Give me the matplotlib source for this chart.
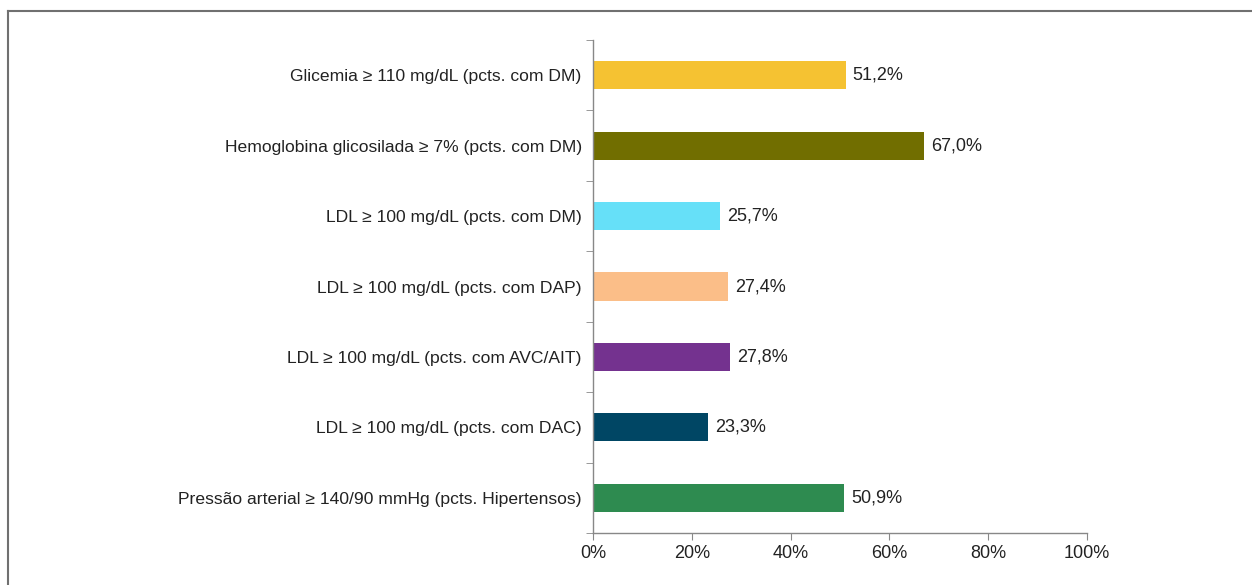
import matplotlib.pyplot as plt
from matplotlib.lines import Line2D
import numpy as np

# Indicators, top to bottom
categories = [
    'Glicemia ≥ 110 mg/dL (pcts. com DM)',
    'Hemoglobina glicosilada ≥ 7% (pcts. com DM)',
    'LDL ≥ 100 mg/dL (pcts. com DM)',
    'LDL ≥ 100 mg/dL (pcts. com DAP)',
    'LDL ≥ 100 mg/dL (pcts. com AVC/AIT)',
    'LDL ≥ 100 mg/dL (pcts. com DAC)',
    'Pressão arterial ≥ 140/90 mmHg (pcts. Hipertensos)',
]
values = [51.2, 67.0, 25.7, 27.4, 27.8, 23.3, 50.9]
colors = ['#F5C232', '#716E00', '#66E0F8', '#FBBE88', '#74328F', '#004664', '#2E8B50']
x_ticks = [0, 20, 40, 60, 80, 100]

plt.rcParams['font.family'] = ['Liberation Sans', 'DejaVu Sans']


def generate_graph():
    fig = plt.figure(figsize=(12.52, 5.85), dpi=100)
    ax = fig.add_axes([0.4736, 0.0889, 0.3946, 0.8427])

    y = np.arange(len(categories))
    ax.barh(y, values, height=0.4, color=colors)
    for yi, v in zip(y, values):
        ax.text(v + 1.4, yi, f'{v:.1f}%'.replace('.', ','), va='center', ha='left',
                fontsize=13, color='#222222')

    ax.set_xlim(0, 100)
    ax.set_ylim(len(categories) - 0.5, -0.5)
    ax.set_xticks(x_ticks)
    ax.set_xticklabels([f'{t}%' for t in x_ticks], fontsize=13, color='#222222')

    # category labels sit between tick marks placed on the boundaries
    ax.set_yticks(y)
    ax.set_yticklabels(categories, fontsize=12.6, color='#222222')
    ax.tick_params(axis='y', which='major', length=0, pad=8)
    ax.set_yticks(np.arange(-0.5, len(categories), 1), minor=True)
    ax.tick_params(axis='y', which='minor', length=5, color='#888888')
    ax.tick_params(axis='x', length=5, color='#888888', pad=4)

    for side in ('top', 'right'):
        ax.spines[side].set_visible(False)
    for side in ('left', 'bottom'):
        ax.spines[side].set_color('#888888')
        ax.spines[side].set_linewidth(1)

    # frame lines on top and left of the figure
    fig.add_artist(Line2D([8 / 1252, 1], [1 - 11 / 585, 1 - 11 / 585],
                          color='#707070', lw=1.5, transform=fig.transFigure))
    fig.add_artist(Line2D([8 / 1252, 8 / 1252], [0, 1 - 11 / 585],
                          color='#707070', lw=1.5, transform=fig.transFigure))

    fig.savefig('out.png', dpi=100)
    plt.close(fig)


if __name__ == '__main__':
    generate_graph()
